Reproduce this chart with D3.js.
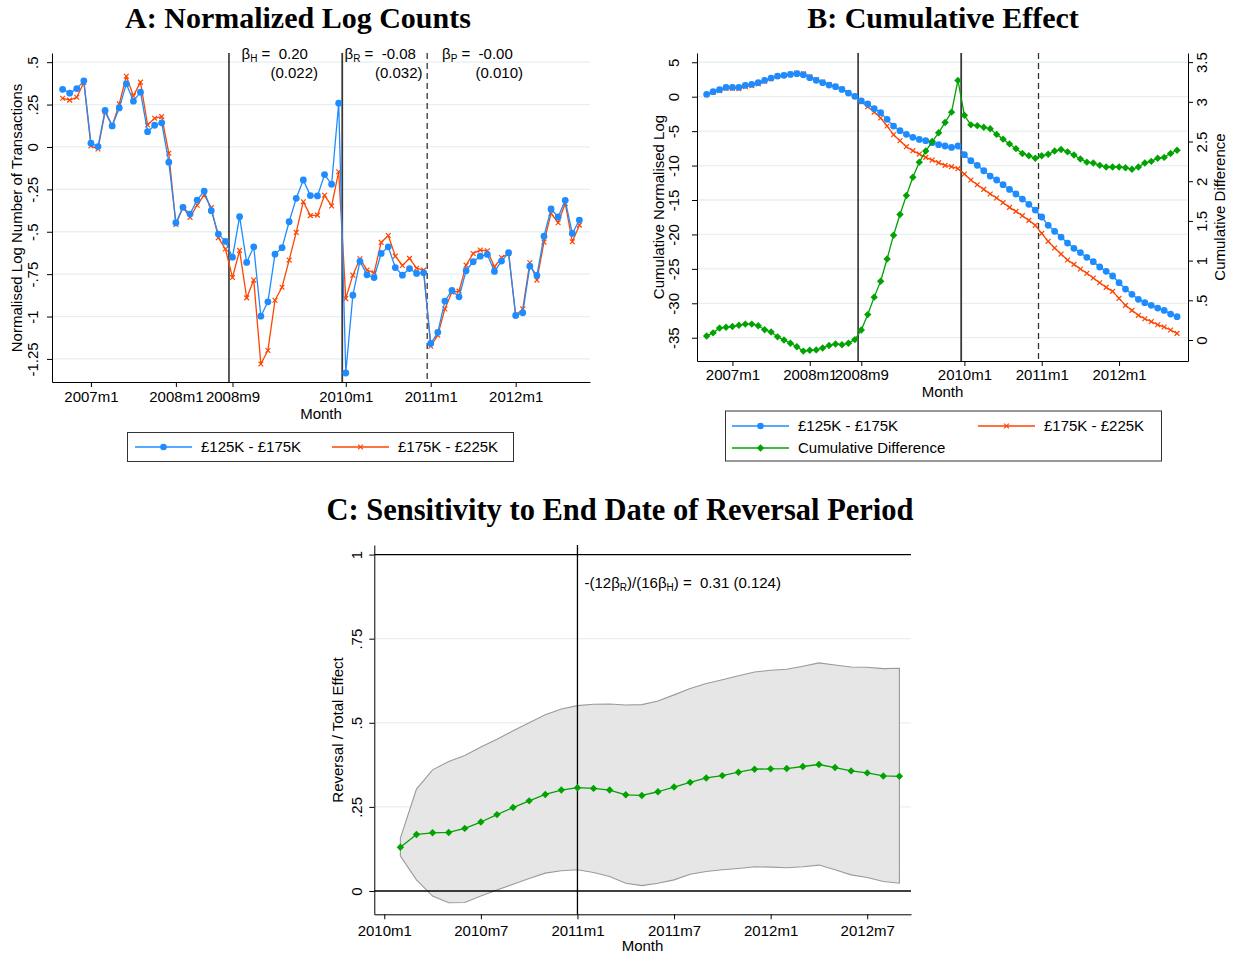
<!DOCTYPE html>
<html>
<head>
<meta charset="utf-8">
<script src="https://cdn.jsdelivr.net/npm/d3@7"></script>
<style>
  body { margin: 0; background: #fff; }
  svg { font-family: "Liberation Sans", Arial, sans-serif; }
</style>
</head>
<body>
<svg id="chart" width="1238" height="956"></svg>
<script>
// ---- data ----
const startAB = "2006m9"; // first month of panels A and B, one value per month
const seriesNames = ["£125K - £175K", "£175K - £225K", "Cumulative Difference"];

const blueA = [0.34, 0.317, 0.344, 0.39, 0.022, 0.002, 0.215, 0.124, 0.23, 0.372, 0.27, 0.323,
  0.09, 0.128, 0.142, -0.09, -0.447, -0.356, -0.396, -0.313, -0.26, -0.376, -0.514, -0.557,
  -0.65, -0.411, -0.681, -0.589, -0.998, -0.913, -0.632, -0.594, -0.441, -0.303, -0.195, -0.287,
  -0.289, -0.163, -0.22, 0.258, -1.333, -0.874, -0.675, -0.754, -0.77, -0.628, -0.589, -0.711,
  -0.756, -0.717, -0.746, -0.742, -1.159, -1.093, -0.909, -0.846, -0.884, -0.73, -0.677, -0.644,
  -0.634, -0.734, -0.673, -0.624, -0.994, -0.978, -0.703, -0.758, -0.526, -0.366, -0.413, -0.315,
  -0.51, -0.431];
const orangeA = [0.287, 0.276, 0.293, 0.38, 0.006, -0.012, 0.207, 0.124, 0.254, 0.417, 0.301, 0.382,
  0.13, 0.169, 0.179, -0.037, -0.457, -0.356, -0.415, -0.344, -0.283, -0.358, -0.535, -0.602,
  -0.77, -0.61, -0.89, -0.785, -1.28, -1.2, -0.904, -0.827, -0.667, -0.504, -0.323, -0.405,
  -0.402, -0.285, -0.348, -0.146, -0.894, -0.756, -0.659, -0.726, -0.742, -0.563, -0.522, -0.644,
  -0.699, -0.657, -0.715, -0.726, -1.175, -1.11, -0.955, -0.856, -0.85, -0.697, -0.628, -0.608,
  -0.612, -0.707, -0.652, -0.628, -0.994, -0.955, -0.683, -0.785, -0.561, -0.392, -0.447, -0.333,
  -0.559, -0.461];

const blueB = [0.34, 0.73, 1.02, 1.36, 1.36, 1.36, 1.65, 1.79, 2.03, 2.37, 2.71, 3.0, 3.1, 3.24,
  3.34, 3.19, 2.76, 2.37, 2.03, 1.69, 1.45, 1.06, 0.53, 0.05, -0.6,
  -1.06, -1.74, -2.32, -3.29, -4.26, -4.94, -5.47, -5.9, -6.2, -6.39, -6.68, -6.97, -7.16, -7.36,
  -7.16, -8.42, -9.29, -9.97, -10.75, -11.52, -12.1, -12.78, -13.46, -14.13,
  -14.86, -15.63, -16.46, -17.47, -18.68, -19.55, -20.38, -21.25, -22.02, -22.65, -23.33, -23.96,
  -24.73, -25.36, -26.04, -27.01, -27.93, -28.7, -29.43, -29.91, -30.3, -30.69, -31.03, -31.56, -31.95];
const orangeB = [0.29, 0.64, 0.87, 1.2, 1.19, 1.18, 1.45, 1.59, 1.85, 2.24, 2.61, 2.96, 3.1, 3.28,
  3.43, 3.33, 2.89, 2.5, 2.13, 1.76, 1.5, 1.12, 0.57, 0.05, -0.73,
  -1.45, -2.23, -3.1, -4.26, -5.52, -6.39, -7.26, -7.84, -8.33, -8.81, -9.2, -9.58, -9.97, -10.16,
  -10.45, -11.23, -12.1, -12.78, -13.46, -14.13, -14.71, -15.39, -16.07, -16.65,
  -17.28, -17.96, -18.68, -19.85, -21.0, -21.97, -22.85, -23.72, -24.35, -25.02, -25.65, -26.33,
  -27.01, -27.69, -28.27, -29.28, -30.3, -31.03, -31.75, -32.24, -32.67, -33.11, -33.45, -33.88, -34.37];
const greenB = [0.05, 0.09, 0.15, 0.16, 0.17, 0.185, 0.2, 0.2, 0.18, 0.13, 0.1, 0.04, 0, -0.04,
  -0.085, -0.14, -0.13, -0.125, -0.1, -0.07, -0.05, -0.06, -0.04, 0.005, 0.126,
  0.32, 0.54, 0.74, 1.02, 1.32, 1.58, 1.82, 2.05, 2.24, 2.38, 2.5, 2.61, 2.74, 2.87, 3.27, 2.83,
  2.71, 2.7, 2.68, 2.66, 2.59, 2.53, 2.47, 2.41,
  2.35, 2.32, 2.29, 2.32, 2.34, 2.38, 2.4, 2.37, 2.33, 2.28, 2.24, 2.23, 2.2, 2.18, 2.18, 2.18,
  2.17, 2.15, 2.18, 2.23, 2.25, 2.29, 2.3, 2.35, 2.39];

const startC = "2010m2";
const ratioC = [0.13, 0.168, 0.173, 0.174, 0.186, 0.205, 0.227, 0.248, 0.268, 0.287, 0.3, 0.307,
  0.305, 0.3, 0.286, 0.284, 0.295, 0.309, 0.323, 0.336, 0.343, 0.353, 0.362, 0.363, 0.364, 0.37,
  0.376, 0.367, 0.357, 0.351, 0.342, 0.341];
const upperC = [0.157, 0.303, 0.36, 0.385, 0.403, 0.428, 0.451, 0.476, 0.5, 0.524, 0.541, 0.551,
  0.555, 0.556, 0.553, 0.554, 0.565, 0.583, 0.602, 0.617, 0.628, 0.64, 0.651, 0.656, 0.659, 0.668,
  0.678, 0.672, 0.666, 0.665, 0.661, 0.662];
const lowerC = [0.104, 0.033, -0.015, -0.035, -0.034, -0.015, 0.003, 0.02, 0.037, 0.053, 0.06, 0.063,
  0.055, 0.043, 0.023, 0.016, 0.023, 0.033, 0.05, 0.058, 0.063, 0.067, 0.072, 0.071, 0.069, 0.072,
  0.077, 0.063, 0.048, 0.04, 0.028, 0.023];

const ticksAB = ["2007m1", "2008m1", "2008m9", "2010m1", "2011m1", "2012m1"];
const ticksC = ["2010m1", "2010m7", "2011m1", "2011m7", "2012m1", "2012m7"];
const yTicksA = [0.5, 0.25, 0, -0.25, -0.5, -0.75, -1, -1.25];
const yLabelsA = [".5", ".25", "0", "-.25", "-.5", "-.75", "-1", "-1.25"];
const yTicksBL = [5, 0, -5, -10, -15, -20, -25, -30, -35];
const yTicksBR = [3.5, 3, 2.5, 2, 1.5, 1, 0.5, 0];
const yLabelsBR = ["3.5", "3", "2.5", "2", "1.5", "1", ".5", "0"];
const yTicksC = [1, 0.75, 0.5, 0.25, 0];
const yLabelsC = ["1", ".75", ".5", ".25", "0"];
// period breaks (half a month before the start month)
const breaksAB = ["2008m9", "2010m1", "2011m1"];

// ---- helpers ----
const BLUE = "#1e8cff", ORANGE = "#ff4500", GREEN = "#00a300", GRID = "#e6eff1";
const mnum = (s) => { const [y, m] = s.split("m").map(Number); return y * 12 + m - 1; };
const svg = d3.select("#chart");

const title = (text, x, y, size = 30) =>
  svg.append("text").attr("x", x).attr("y", y).attr("text-anchor", "middle")
    .attr("font-family", "'Liberation Serif', 'Times New Roman', serif")
    .attr("font-weight", "bold").attr("font-size", size).text(text);

const plainText = (text, x, y, anchor = "middle", rotate = false) => {
  const t = svg.append("text").attr("font-size", 15).attr("text-anchor", anchor).text(text);
  if (rotate) t.attr("transform", `translate(${x},${y}) rotate(-90)`);
  else t.attr("x", x).attr("y", y);
  return t;
};

const gridY = (scale, ticks, x0, x1) =>
  svg.append("g").selectAll("line").data(ticks).join("line")
    .attr("x1", x0).attr("x2", x1)
    .attr("y1", (d) => scale(d)).attr("y2", (d) => scale(d))
    .attr("stroke", GRID).attr("stroke-width", 1.3);

const yAxis = (axisFn, x, scale, ticks, labels, offset) => {
  const g = svg.append("g").attr("transform", `translate(${x},0)`)
    .call(axisFn(scale).tickValues(ticks).tickSize(5).tickSizeOuter(0)
      .tickFormat((d, i) => labels[i]));
  g.attr("font-size", 15).attr("font-family", null);
  g.select(".domain").attr("stroke", "#000");
  g.selectAll(".tick line").attr("stroke", "#000");
  g.selectAll(".tick text").attr("x", null).attr("dy", "0.35em").attr("fill", "#000")
    .attr("text-anchor", "middle").attr("transform", `translate(${offset},0) rotate(-90)`);
};

const xAxis = (y, scale, ticks, offset) => {
  const g = svg.append("g").attr("transform", `translate(0,${y})`)
    .call(d3.axisBottom(scale).tickValues(ticks.map(mnum)).tickSize(5).tickSizeOuter(0)
      .tickFormat((d, i) => ticks[i]));
  g.attr("font-size", 15).attr("font-family", null);
  g.select(".domain").attr("stroke", "#000");
  g.selectAll(".tick line").attr("stroke", "#000");
  g.selectAll(".tick text").attr("y", offset).attr("dy", "0.35em").attr("fill", "#000");
};

const circle = (g, x, y, r) => g.append("circle").attr("cx", x).attr("cy", y).attr("r", r);
const cross = (g, x, y, s, color) => g.append("path")
  .attr("d", `M${x - s},${y - s}L${x + s},${y + s}M${x - s},${y + s}L${x + s},${y - s}`)
  .attr("stroke", color).attr("stroke-width", 1.2).attr("fill", "none");
const diamond = (g, x, y, r, color) => g.append("path")
  .attr("d", `M${x},${y - r}L${x + r},${y}L${x},${y + r}L${x - r},${y}Z`).attr("fill", color);

const drawSeries = (values, start, xs, ys, color, marker) => {
  const m0 = mnum(start);
  const g = svg.append("g");
  g.append("path").datum(values)
    .attr("d", d3.line().x((d, i) => xs(m0 + i)).y((d) => ys(d)))
    .attr("fill", "none").attr("stroke", color).attr("stroke-width", 1.3)
    .attr("stroke-linejoin", "round");
  values.forEach((v, i) => {
    const x = xs(m0 + i), y = ys(v);
    if (marker === "circle") circle(g, x, y, 3.4).attr("fill", color);
    else if (marker === "x") cross(g, x, y, 2.4, color);
    else diamond(g, x, y, 3.7, color);
  });
};

const breakLines = (xs, y0, y1) => {
  breaksAB.forEach((b, i) => {
    const x = xs(mnum(b) - 0.5);
    svg.append("line").attr("x1", x).attr("x2", x).attr("y1", y0).attr("y2", y1)
      .attr("stroke", i === 0 ? "#000" : i === 1 ? "#3a3a3a" : "#333")
      .attr("stroke-width", i === 1 ? 1.8 : 1.3)
      .attr("stroke-dasharray", i === 2 ? "6,4" : null);
  });
};

const legendItem = (g, x, y, color, marker, label) => {
  g.append("line").attr("x1", x).attr("x2", x + 57).attr("y1", y).attr("y2", y)
    .attr("stroke", color).attr("stroke-width", 1.3);
  if (marker === "circle") circle(g, x + 28.5, y, 3.3).attr("fill", color);
  else if (marker === "x") cross(g, x + 28.5, y, 2.4, color);
  else diamond(g, x + 28.5, y, 3.7, color);
  g.append("text").attr("x", x + 66).attr("y", y).attr("dy", "0.35em")
    .attr("font-size", 15).text(label);
};

const betaLabel = (x, y, sub, rest) => {
  const t = svg.append("text").attr("x", x).attr("y", y).attr("font-size", 15);
  t.append("tspan").text("β");
  t.append("tspan").attr("font-size", 10).attr("dy", 3).text(sub);
  t.append("tspan").attr("dy", -3).attr("xml:space", "preserve").text(rest);
};

// ---- panel A ----
const m0 = mnum(startAB);
const xA = d3.scaleLinear().domain([m0 - 1.5, m0 + 74.5]).range([52, 590]);
const yA = d3.scaleLinear().domain([-1.386, 0.554]).range([382, 53]);

title("A: Normalized Log Counts", 298, 28);
gridY(yA, yTicksA, 52, 590);
breakLines(xA, 53, 382);
drawSeries(orangeA, startAB, xA, yA, ORANGE, "x");
drawSeries(blueA, startAB, xA, yA, BLUE, "circle");
yAxis(d3.axisLeft, 52, yA, yTicksA, yLabelsA, -19);
xAxis(382, xA, ticksAB, 15);
plainText("Normalised Log Number of Transactions", 22, 218, "middle", true);
plainText("Month", 321, 419);

betaLabel(241.5, 59, "H", " =  0.20");
plainText("(0.022)", 270.5, 77.5, "start");
betaLabel(344.5, 59, "R", " =  -0.08");
plainText("(0.032)", 375, 77.5, "start");
betaLabel(442, 59, "P", " =  -0.00");
plainText("(0.010)", 475.5, 77.5, "start");

const legA = svg.append("g");
legA.append("rect").attr("x", 127.5).attr("y", 432.5).attr("width", 386).attr("height", 29)
  .attr("fill", "#fff").attr("stroke", "#333");
legendItem(legA, 135, 447, BLUE, "circle", seriesNames[0]);
legendItem(legA, 332, 447, ORANGE, "x", seriesNames[1]);

// ---- panel B ----
const xB = d3.scaleLinear().domain([m0 - 1.5, m0 + 74.7]).range([697, 1188]);
const yBL = d3.scaleLinear().domain([-38.38, 6.345]).range([361, 53]);
const yBR = d3.scaleLinear().domain([-0.2645, 3.615]).range([361, 53]);

title("B: Cumulative Effect", 943, 28);
gridY(yBL, yTicksBL, 697, 1188);
breakLines(xB, 53, 361);
drawSeries(orangeB, startAB, xB, yBL, ORANGE, "x");
drawSeries(blueB, startAB, xB, yBL, BLUE, "circle");
drawSeries(greenB, startAB, xB, yBR, GREEN, "diamond");
yAxis(d3.axisLeft, 697, yBL, yTicksBL, yTicksBL.map(String), -23);
yAxis(d3.axisRight, 1188, yBR, yTicksBR, yLabelsBR, 14);
xAxis(361, xB, ticksAB, 14);
plainText("Cumulative Normalised Log", 664, 207, "middle", true);
plainText("Cumulative Difference", 1225, 207, "middle", true);
plainText("Month", 942.5, 397);

const legB = svg.append("g");
legB.append("rect").attr("x", 725.5).attr("y", 411).attr("width", 436).attr("height", 50)
  .attr("fill", "#fff").attr("stroke", "#333");
legendItem(legB, 732, 426, BLUE, "circle", seriesNames[0]);
legendItem(legB, 978, 426, ORANGE, "x", seriesNames[1]);
legendItem(legB, 732, 448, GREEN, "diamond", seriesNames[2]);

// ---- panel C ----
const c0 = mnum("2010m1");
const xC = d3.scaleLinear().domain([c0 - 0.62, c0 + 32.72]).range([374.3, 911]);
const yC = d3.scaleLinear().domain([-0.0693, 1.0285]).range([914.3, 545]);
const cStart = mnum(startC);

title("C: Sensitivity to End Date of Reversal Period", 620, 520, 30.5);
gridY(yC, [0.75, 0.5, 0.25], 374.3, 911);

svg.append("path").datum(upperC)
  .attr("d", d3.area().x((d, i) => xC(cStart + i)).y1((d) => yC(d)).y0((d, i) => yC(lowerC[i])))
  .attr("fill", "#e6e6e6").attr("stroke", "#9a9a9a").attr("stroke-width", 1.1);

[1, 0].forEach((v) => {
  svg.append("line").attr("x1", 374.3).attr("x2", 911).attr("y1", yC(v)).attr("y2", yC(v))
    .attr("stroke", "#000").attr("stroke-width", 1.4);
});
svg.append("line").attr("x1", xC(mnum("2011m1"))).attr("x2", xC(mnum("2011m1")))
  .attr("y1", 545).attr("y2", 914.3).attr("stroke", "#000").attr("stroke-width", 1.3);

drawSeries(ratioC, startC, xC, yC, GREEN, "diamond");
yAxis(d3.axisLeft, 374.3, yC, yTicksC, yLabelsC, -18);
xAxis(914.3, xC, ticksC, 16);
plainText("Reversal / Total Effect", 343, 730, "middle", true);
plainText("Month", 642.5, 951);

const ann = svg.append("text").attr("x", 584.5).attr("y", 588).attr("font-size", 15);
ann.append("tspan").text("-(12β");
ann.append("tspan").attr("font-size", 10).attr("dy", 3).text("R");
ann.append("tspan").attr("dy", -3).text(")/(16β");
ann.append("tspan").attr("font-size", 10).attr("dy", 3).text("H");
ann.append("tspan").attr("dy", -3).attr("xml:space", "preserve").text(") =  0.31 (0.124)");
</script>
</body>
</html>
